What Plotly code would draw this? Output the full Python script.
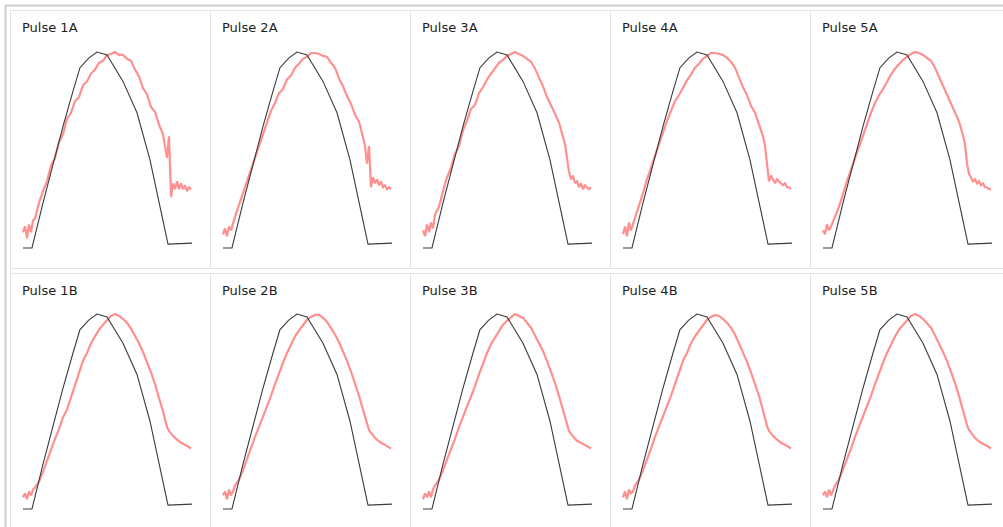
import plotly.graph_objects as go

W, H = 1003, 527

PANEL_TITLES = ["Pulse 1A", "Pulse 2A", "Pulse 3A", "Pulse 4A", "Pulse 5A",
                "Pulse 1B", "Pulse 2B", "Pulse 3B", "Pulse 4B", "Pulse 5B"]

# reference pulse (black), normalized amplitude vs sample index
REF_T = [0, 9, 20, 30, 40, 50, 57, 66, 74, 84, 100, 114, 127, 145, 169]
REF_Y = [0, 0, 0.23, 0.43, 0.62, 0.80, 0.92, 0.97, 1.0, 0.985, 0.85, 0.69, 0.45, 0.02, 0.025]

# measured pulses (red) sampled at MEAS_T
MEAS_T = [0, 2, 4, 6, 8, 10, 12, 16, 20, 24, 28, 32, 36, 40, 44, 48, 52, 56, 60, 64,
          68, 72, 76, 80, 84, 88, 92, 96, 100, 104, 108, 112, 116, 120, 124, 128, 132,
          136, 140, 142, 144, 146, 148, 150, 152, 154, 156, 158, 160, 162, 164, 166, 168]

MEAS_1A = [.08, .11, .05, .12, .08, .14, .15, .23, .29, .34, .42, .46, .54, .58, .66, .69, .75, .77, .83, .85,
           .89, .91, .945, .955, .985, .99, 1.0, .985, .985, .965, .955, .91, .875, .815, .785, .72, .695,
           .63, .58, .52, .46, .57, .26, .33, .30, .34, .30, .33, .30, .32, .29, .31, .30]
MEAS_2A = [.07, .10, .06, .11, .09, .13, .16, .22, .28, .35, .40, .47, .53, .59, .64, .70, .74, .79, .81, .86,
           .88, .92, .94, .965, .975, .995, .995, .99, .98, .975, .945, .92, .865, .825, .775, .735, .68,
           .645, .565, .52, .43, .52, .31, .36, .33, .35, .32, .34, .31, .32, .30, .31, .30]
MEAS_3A = [.09, .06, .12, .08, .13, .10, .17, .21, .29, .36, .41, .48, .52, .60, .65, .71, .73, .79, .82, .86,
           .89, .915, .945, .96, .98, .99, 1.0, .99, .98, .965, .95, .915, .87, .825, .77, .73, .685,
           .64, .57, .53, .46, .39, .35, .37, .33, .34, .31, .33, .30, .32, .31, .30, .31]
MEAS_4A = [.07, .11, .06, .13, .09, .12, .15, .22, .28, .35, .41, .47, .54, .59, .65, .70, .75, .78, .82, .855,
           .885, .92, .94, .965, .98, .995, .995, .99, .985, .97, .95, .92, .865, .82, .78, .725, .69,
           .635, .57, .52, .44, .34, .37, .35, .33, .35, .34, .33, .32, .33, .31, .31, .30]
MEAS_5A = [.09, .07, .12, .09, .11, .14, .16, .21, .28, .34, .40, .46, .52, .58, .64, .69, .74, .78, .81, .85,
           .885, .915, .94, .96, .975, .99, 1.0, .995, .985, .97, .955, .92, .875, .83, .785, .74, .695,
           .645, .575, .53, .43, .38, .36, .34, .35, .33, .34, .32, .33, .31, .31, .30, .30]
MEAS_1B = [.06, .08, .05, .09, .07, .10, .11, .14, .19, .25, .31, .36, .41, .47, .51, .57, .63, .70, .76, .80,
           .85, .885, .92, .945, .97, .99, 1.0, .99, .975, .955, .925, .89, .85, .805, .755, .70, .64,
           .575, .50, .46, .42, .40, .385, .375, .365, .355, .345, .34, .335, .33, .325, .318, .31]
MEAS_2B = [.07, .09, .05, .10, .07, .09, .12, .15, .20, .26, .31, .37, .42, .47, .52, .58, .64, .70, .75, .80,
           .845, .885, .915, .945, .97, .985, .995, .995, .98, .96, .93, .895, .855, .81, .76, .705, .645,
           .58, .51, .47, .43, .405, .39, .375, .365, .355, .345, .34, .335, .33, .322, .316, .31]
MEAS_3B = [.05, .08, .06, .09, .06, .10, .12, .15, .20, .25, .31, .36, .42, .47, .52, .57, .63, .69, .75, .80,
           .845, .88, .915, .945, .965, .985, 1.0, .99, .98, .955, .93, .89, .85, .81, .76, .705, .645,
           .58, .505, .465, .425, .40, .385, .37, .36, .35, .345, .34, .335, .328, .322, .316, .31]
MEAS_4B = [.06, .09, .05, .10, .08, .09, .12, .15, .20, .25, .31, .37, .42, .47, .52, .58, .64, .70, .76, .80,
           .85, .885, .915, .945, .97, .985, .995, .99, .975, .955, .93, .895, .85, .805, .755, .70, .64,
           .58, .505, .46, .425, .40, .385, .375, .365, .355, .345, .34, .335, .33, .325, .318, .31]
MEAS_5B = [.07, .09, .06, .10, .07, .10, .12, .15, .20, .26, .31, .37, .42, .47, .52, .58, .64, .70, .75, .80,
           .845, .885, .92, .945, .97, .99, 1.0, .99, .975, .955, .93, .89, .85, .805, .76, .705, .645,
           .58, .505, .465, .43, .405, .39, .375, .365, .355, .345, .34, .335, .33, .325, .318, .31]

MEAS = [MEAS_1A, MEAS_2A, MEAS_3A, MEAS_4A, MEAS_5A,
        MEAS_1B, MEAS_2B, MEAS_3B, MEAS_4B, MEAS_5B]

fig = go.Figure()
layout_axes = {}
annotations = []

# pixel geometry
ROW_BOX = [(10, 268), (273, 527)]          # top/bottom pixel of each row cell
ROW_ZERO_ONE = [(248, 52), (509, 314)]     # pixel y of amplitude 0 and 1
T0_PX = 23                                  # pixel x of sample 0 in first column
TITLE_Y = [28, 290]

for i, (title, meas) in enumerate(zip(PANEL_TITLES, MEAS)):
    r, c = divmod(i, 5)
    k = i + 1
    xa = "x" if k == 1 else f"x{k}"
    ya = "y" if k == 1 else f"y{k}"
    left_px = 10 + 200 * c
    right_px = min(210 + 200 * c, W)
    t0 = T0_PX + 200 * c
    top_px, bot_px = ROW_BOX[r]
    p0, p1 = ROW_ZERO_ONE[r]
    scale = p0 - p1
    xr = [left_px - t0, right_px - t0]
    yr = [(p0 - bot_px) / scale, (p0 - top_px) / scale]
    ax_common = dict(visible=False, showgrid=False, zeroline=False, fixedrange=True)
    layout_axes[("xaxis" if k == 1 else f"xaxis{k}")] = dict(
        domain=[left_px / W, right_px / W], range=xr, anchor=ya, **ax_common)
    layout_axes[("yaxis" if k == 1 else f"yaxis{k}")] = dict(
        domain=[1 - bot_px / H, 1 - top_px / H], range=yr, anchor=xa, **ax_common)

    fig.add_trace(go.Scatter(x=MEAS_T, y=meas, mode="lines", xaxis=xa, yaxis=ya,
                             line=dict(color="rgba(255,70,70,0.6)", width=2.2),
                             showlegend=False, hoverinfo="skip"))
    fig.add_trace(go.Scatter(x=REF_T, y=REF_Y, mode="lines", xaxis=xa, yaxis=ya,
                             line=dict(color="#3a3a3a", width=1.1),
                             showlegend=False, hoverinfo="skip"))
    annotations.append(dict(text=title, xref="paper", yref="paper",
                            x=(20 + 200 * c) / W, y=1 - TITLE_Y[r] / H,
                            xanchor="left", yanchor="middle", showarrow=False,
                            font=dict(family="DejaVu Sans", size=13, color="#1e1e1e")))

shapes = []
def hline(ypx, x0px, x1px, color, width):
    shapes.append(dict(type="line", xref="paper", yref="paper",
                       x0=x0px / W, x1=x1px / W, y0=1 - ypx / H, y1=1 - ypx / H,
                       line=dict(color=color, width=width), layer="below"))
def vline(xpx, y0px, y1px, color, width):
    shapes.append(dict(type="line", xref="paper", yref="paper",
                       x0=xpx / W, x1=xpx / W, y0=1 - y0px / H, y1=1 - y1px / H,
                       line=dict(color=color, width=width), layer="below"))

OUTER = "#cfcfcf"
INNER = "#e4e4e4"
hline(5.5, 5, W, OUTER, 2)
vline(5.5, 5, H, OUTER, 2)
hline(10.5, 10, W, INNER, 1)
hline(268.5, 10, W, INNER, 1)
hline(273.5, 10, W, INNER, 1)
vline(10.5, 10, H, INNER, 1)
for c in range(1, 5):
    xp = 210.5 + 200 * (c - 1)
    vline(xp, 10, 268, INNER, 1)
    vline(xp, 273, H, INNER, 1)

fig.update_layout(width=W, height=H, margin=dict(l=0, r=0, t=0, b=0),
                  paper_bgcolor="white", plot_bgcolor="white",
                  annotations=annotations, shapes=shapes, **layout_axes)

fig.write_html("out.html", config={"displayModeBar": False},
               post_script="document.body.style.margin='0px';document.body.style.overflow='hidden';")
